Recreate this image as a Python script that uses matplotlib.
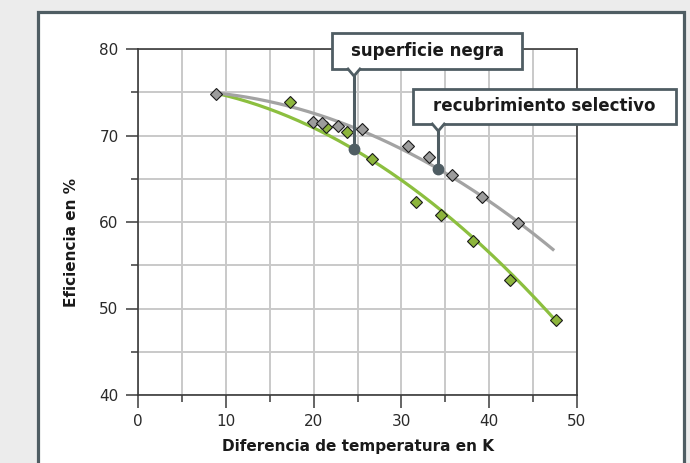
import numpy as np
import matplotlib
matplotlib.use('Agg')
import matplotlib.pyplot as plt
from matplotlib.patches import Rectangle, Polygon
from matplotlib.ticker import MultipleLocator

# ---- data: measured points ----
sel_x = [8.9, 19.9, 20.9, 22.8, 25.5, 30.8, 33.1, 35.8, 39.2, 43.3]
sel_y = [74.8, 71.6, 71.4, 71.1, 70.75, 68.8, 67.55, 65.4, 62.85, 59.85]
neg_x = [17.35, 21.4, 23.8, 26.7, 31.7, 34.5, 38.2, 42.4, 47.6]
neg_y = [73.84, 70.98, 70.37, 67.3, 62.3, 60.85, 57.8, 53.3, 48.67]
# ---- data: characteristic curves ----
sel_curve_x = [9.0, 15.0, 20.0, 23.8, 34.2, 39.1, 47.4]
sel_curve_y = [74.8, 74.0, 72.7, 71.2, 66.1, 62.9, 56.8]
neg_curve_x = [9.0, 15.0, 20.0, 24.6, 29.8, 35.5, 38.2, 42.4, 47.6]
neg_curve_y = [74.8, 73.1, 71.0, 68.2, 65.2, 60.6, 57.9, 54.1, 48.67]
x_ticks = [0, 10, 20, 30, 40, 50]
y_ticks = [40, 50, 60, 70, 80]
x_label = "Diferencia de temperatura en K"
y_label = "Eficiencia en %"
label_neg = "superficie negra"
label_sel = "recubrimiento selectivo"
anchor_neg = 24.6
anchor_sel = 34.2

dark = '#4f5d63'
gray_line = '#a3a3a3'
green_line = '#8cbf3f'
gray_face = '#9c9c9c'
green_face = '#8db53c'

plt.rcParams['font.family'] = ['DejaVu Sans']

fig = plt.figure(figsize=(6.9, 4.63), dpi=100, facecolor='#ececec')
fig.patches.append(Rectangle((38/690, -0.05), (684-38)/690, 1.05 - 12/463,
                             transform=fig.transFigure, fc='white', ec=dark,
                             lw=2.3, zorder=-10))

ax = fig.add_axes([138/690, 68/463, 439/690, 346/463])
ax.set_zorder(2)
ax.set_facecolor('white')
ax.set_xlim(0, 50)
ax.set_ylim(40, 80)
ax.set_xticks(x_ticks)
ax.set_yticks(y_ticks)
ax.xaxis.set_minor_locator(MultipleLocator(5))
ax.yaxis.set_minor_locator(MultipleLocator(5))
ax.grid(True, which='both', color='#c9c9c9', lw=1.4, zorder=0)
ax.set_axisbelow(True)
for s in ax.spines.values():
    s.set_color('#3a3a3a')
    s.set_linewidth(1.2)
ax.tick_params(which='major', direction='out', length=9, width=1.1, color='#3a3a3a',
               labelsize=11, labelcolor='#2a2a2a')
ax.tick_params(axis='y', which='major', pad=5)
ax.tick_params(axis='x', which='major', pad=5)
ax.tick_params(which='minor', direction='out', length=5, width=1.1, color='#3a3a3a')

# characteristic curves (smooth quadratic through the read curve points)
p_sel = np.polyfit(sel_curve_x, sel_curve_y, 2)
p_neg = np.polyfit(neg_curve_x, neg_curve_y, 2)
xs = np.linspace(min(sel_curve_x), max(sel_curve_x), 200)
xn = np.linspace(min(neg_curve_x), max(neg_curve_x), 200)
ax.plot(xn, np.polyval(p_neg, xn), color=green_line, lw=2.3, zorder=3, solid_capstyle='butt')
ax.plot(xs, np.polyval(p_sel, xs), color=gray_line, lw=2.3, zorder=3, solid_capstyle='butt')

ax.plot(neg_x, neg_y, 'D', ms=6.5, mfc=green_face, mec='#1a1a1a', mew=0.8, ls='none', zorder=4)
ax.plot(sel_x, sel_y, 'D', ms=6.5, mfc=gray_face, mec='#1a1a1a', mew=0.8, ls='none', zorder=4)

ax.set_xlabel(x_label, fontsize=11, fontweight='bold', color='#1a1a1a', va='center')
ax.set_ylabel(y_label, fontsize=11, fontweight='bold', color='#1a1a1a', va='center')
ax.xaxis.set_label_coords(0.5, -0.150)
ax.yaxis.set_label_coords(-0.151, 0.441)


def callout(text, box, anchor_x, coef):
    x0, x1, y0, y1 = box
    ax.add_patch(Rectangle((x0, y0), x1 - x0, y1 - y0, fc='white', ec=dark,
                           lw=2.0, clip_on=False, zorder=6))
    ax.text((x0 + x1) / 2, (y0 + y1) / 2, text, ha='center', va='center',
            fontsize=12, fontweight='bold', color='#1a1a1a', zorder=7, clip_on=False)
    dot_y = np.polyval(coef, anchor_x)
    nw, nh = 0.68, 0.81
    ax.add_patch(Polygon([(anchor_x - nw, y0 + 0.15), (anchor_x, y0 - nh),
                          (anchor_x + nw, y0 + 0.15)], closed=True, fc='white',
                         ec='none', zorder=7, clip_on=False))
    ax.plot([anchor_x - nw, anchor_x, anchor_x + nw], [y0, y0 - nh, y0], color=dark,
            lw=2.0, zorder=8, clip_on=False, solid_joinstyle='miter')
    ax.plot([anchor_x, anchor_x], [y0 - nh, dot_y], color=dark, lw=2.2, zorder=8,
            clip_on=False)
    ax.plot(anchor_x, dot_y, 'o', ms=7.5, color=dark, zorder=9)


callout(label_neg, (22.10, 43.74, 77.69, 81.85), anchor_neg, p_neg)
callout(label_sel, (31.32, 61.28, 71.33, 75.38), anchor_sel, p_sel)

fig.savefig('out.png', dpi=100, facecolor=fig.get_facecolor())
